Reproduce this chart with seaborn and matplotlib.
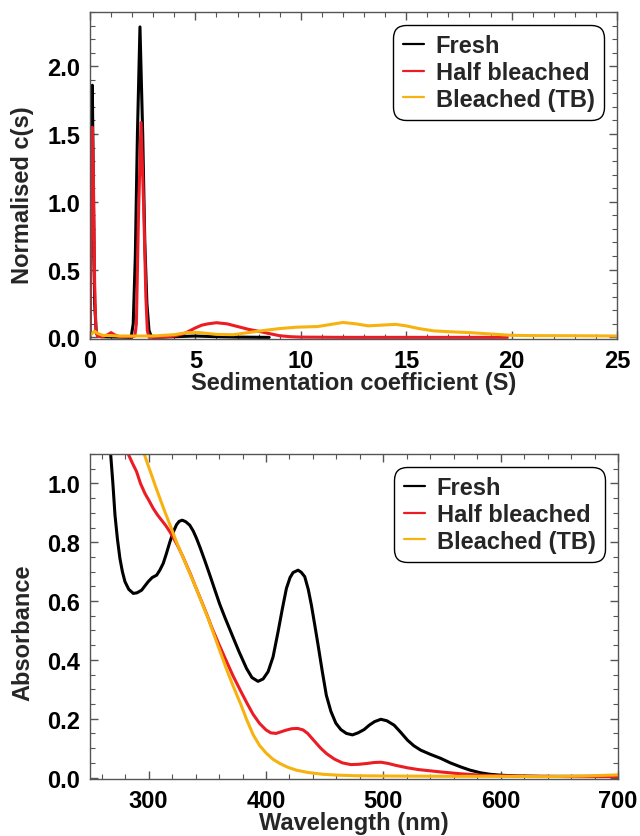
import numpy as np
import pandas as pd
import matplotlib
matplotlib.use("Agg")
import matplotlib.pyplot as plt
from matplotlib.ticker import MultipleLocator
import seaborn as sns

# ---------------- data ----------------
samples = ["Fresh", "Half bleached", "Bleached (TB)"]
colors = ["#000000", "#ec1c24", "#f7b20f"]

# Top panel: sedimentation coefficient distributions
fresh_s = [0.0, 0.06, 0.11, 0.16, 0.22, 0.3, 0.5, 1.0, 1.5, 1.95, 2.05, 2.15, 2.25, 2.37,
           2.5, 2.6, 2.7, 2.8, 2.9, 3.0, 4.0, 5.0, 6.0, 7.0, 8.5]
fresh_c = [0.0, 1.0, 1.86, 1.1, 0.25, 0.03, 0.005, 0.003, 0.002, 0.0, 0.1, 0.6, 1.5, 2.29,
           1.5, 0.7, 0.25, 0.05, 0.01, 0.0, 0.005, 0.01, 0.005, 0.002, 0.0]
half_s = [0.0, 0.06, 0.11, 0.16, 0.22, 0.28, 0.35, 0.6, 0.85, 1.0, 1.15, 1.4, 2.0, 2.13,
          2.2, 2.3, 2.42, 2.55, 2.65, 2.72, 2.8, 3.5, 4.0, 4.5, 5.0, 5.3, 5.6, 6.0, 6.5,
          7.0, 7.5, 8.0, 8.5, 9.0, 9.5, 10.0, 12.0, 19.8]
half_c = [0.0, 0.9, 1.55, 1.2, 0.4, 0.05, 0.01, 0.005, 0.02, 0.035, 0.02, 0.005, 0.005, 0.01,
          0.1, 0.9, 1.585, 0.95, 0.3, 0.05, 0.0, 0.003, 0.01, 0.03, 0.07, 0.09, 0.1, 0.108, 0.1,
          0.08, 0.06, 0.045, 0.028, 0.012, 0.005, 0.002, 0.0, 0.0]
tb_s = [0.0, 0.1, 0.22, 0.35, 0.6, 1.5, 3.0, 4.0, 4.6, 5.2, 6.0, 6.8, 7.5, 8.2, 9.0, 9.8,
        10.8, 11.4, 12.0, 12.6, 13.2, 13.8, 14.5, 15.0, 15.6, 16.3, 17.0, 18.0, 19.0, 20.0,
        21.0, 23.0, 25.0]
tb_c = [0.01, 0.03, 0.045, 0.03, 0.015, 0.01, 0.01, 0.02, 0.035, 0.035, 0.022, 0.02, 0.035,
        0.05, 0.065, 0.075, 0.08, 0.095, 0.11, 0.1, 0.085, 0.09, 0.096, 0.085, 0.065, 0.048,
        0.042, 0.035, 0.025, 0.015, 0.013, 0.012, 0.01]

# Bottom panel: absorbance spectra
fresh_wl = [267.6, 269.5, 271.3, 273.4, 275.5, 277.6, 279.8, 283, 286.9, 290, 294, 299.6,
            303, 306.8, 309.5, 312.4, 315, 318, 321, 323.8, 326, 328.6, 331.5, 335, 338,
            340.8, 344, 347.9, 352, 356.4, 360.5, 364.9, 368.5, 372, 377, 383.4, 388, 393.2,
            397.5, 401.8, 406, 410.3, 414, 417.4, 420.5, 423.1, 427.3, 430, 433, 436, 438.7,
            441.5, 444.4, 448, 451.4, 455.3, 459.5, 463.8, 468.5, 473.7, 478.5, 483.6, 488,
            492.5, 497.9, 503, 509.2, 514.5, 520.6, 526, 531.9, 540, 549, 557, 566, 574, 583,
            591, 600, 615, 634, 660, 700]
fresh_a = [1.1, 1.0, 0.892, 0.81, 0.745, 0.7, 0.666, 0.64, 0.626, 0.628, 0.637, 0.666,
           0.68, 0.688, 0.705, 0.728, 0.76, 0.8, 0.835, 0.86, 0.871, 0.875, 0.87, 0.858,
           0.838, 0.813, 0.78, 0.737, 0.69, 0.638, 0.59, 0.545, 0.51, 0.476, 0.428, 0.371,
           0.34, 0.327, 0.335, 0.36, 0.41, 0.496, 0.575, 0.643, 0.68, 0.697, 0.705, 0.698,
           0.683, 0.64, 0.586, 0.52, 0.45, 0.36, 0.28, 0.225, 0.185, 0.163, 0.15, 0.145,
           0.152, 0.163, 0.178, 0.19, 0.198, 0.193, 0.178, 0.155, 0.127, 0.108, 0.093, 0.079,
           0.065, 0.05, 0.036, 0.025, 0.016, 0.011, 0.008, 0.005, 0.004, 0.004, 0.004]
half_wl = [282.6, 286, 289.7, 293, 296.8, 300.5, 303.9, 307.5, 311, 314.5, 318, 321.5,
           325.1, 328.7, 332.3, 335.8, 339.4, 342.9, 346.4, 350, 353.6, 360, 366, 372,
           378.7, 383.5, 389, 394.5, 400, 404, 408.5, 412.5, 417, 422, 427, 431.5, 435.5,
           441, 446.8, 452, 458.2, 465, 472.3, 479, 486.5, 492, 497.9, 504, 511, 520.6, 530,
           548.9, 565, 583, 600, 634, 660, 700]
half_a = [1.1, 1.07, 1.04, 1.0, 0.966, 0.94, 0.915, 0.893, 0.875, 0.857, 0.836, 0.812,
          0.785, 0.755, 0.722, 0.69, 0.654, 0.62, 0.586, 0.55, 0.512, 0.452, 0.398, 0.345,
          0.292, 0.255, 0.215, 0.184, 0.162, 0.152, 0.15, 0.155, 0.161, 0.166, 0.167, 0.162,
          0.15, 0.125, 0.099, 0.08, 0.063, 0.05, 0.044, 0.045, 0.048, 0.051, 0.052, 0.048,
          0.041, 0.033, 0.027, 0.019, 0.013, 0.008, 0.006, 0.004, 0.003, 0.003]
tb_wl = [296.2, 299.3, 302.5, 306, 309.6, 313, 316.6, 320.2, 323.8, 327.3, 330.9, 335,
         339.4, 345, 350.7, 356, 361, 366, 371, 375, 378.7, 383.5, 389, 394.5, 400.4, 406,
         411.7, 418.5, 425.9, 436, 448.6, 462, 477, 511, 560, 600, 640, 670, 700]
tb_a = [1.1, 1.064, 1.028, 0.988, 0.949, 0.912, 0.875, 0.838, 0.8, 0.767, 0.734, 0.695,
        0.654, 0.598, 0.541, 0.482, 0.427, 0.372, 0.321, 0.282, 0.247, 0.197, 0.146, 0.109,
        0.082, 0.062, 0.048, 0.035, 0.025, 0.017, 0.011, 0.008, 0.006, 0.005, 0.004, 0.004,
        0.003, 0.005, 0.009]

auc = pd.concat([
    pd.DataFrame({"s": fresh_s, "c": fresh_c, "sample": samples[0]}),
    pd.DataFrame({"s": half_s, "c": half_c, "sample": samples[1]}),
    pd.DataFrame({"s": tb_s, "c": tb_c, "sample": samples[2]}),
], ignore_index=True)
uv = pd.concat([
    pd.DataFrame({"wl": fresh_wl, "a": fresh_a, "sample": samples[0]}),
    pd.DataFrame({"wl": half_wl, "a": half_a, "sample": samples[1]}),
    pd.DataFrame({"wl": tb_wl, "a": tb_a, "sample": samples[2]}),
], ignore_index=True)

# ---------------- style ----------------
sns.set_theme(style="ticks")
plt.rcParams["font.family"] = ["Liberation Sans", "DejaVu Sans"]
plt.rcParams["font.weight"] = "bold"
plt.rcParams["axes.labelweight"] = "bold"
FS = 17
palette = dict(zip(samples, colors))
spine_col = "#555555"

fig = plt.figure(figsize=(6.4, 8.37), dpi=100)
ax1 = fig.add_axes([90 / 640, 1 - 340 / 837, 527 / 640, 327 / 837])
ax2 = fig.add_axes([90 / 640, 1 - 780 / 837, 528 / 640, 325 / 837])

sns.lineplot(data=auc, x="s", y="c", hue="sample", hue_order=samples, palette=palette,
             estimator=None, sort=True, linewidth=2.2, ax=ax1)
sns.lineplot(data=uv, x="wl", y="a", hue="sample", hue_order=samples, palette=palette,
             estimator=None, sort=True, linewidth=2.2, ax=ax2)

ax1.set_xlim(0, 25)
ax1.set_ylim(-0.012, 2.4)
ax1.xaxis.set_major_locator(MultipleLocator(5))
ax1.xaxis.set_minor_locator(MultipleLocator(1))
ax1.yaxis.set_major_locator(MultipleLocator(0.5))
ax1.yaxis.set_minor_locator(MultipleLocator(0.1))
ax1.set_xlabel("Sedimentation coefficient (S)", fontsize=FS, fontweight="bold")
ax1.set_ylabel("Normalised c(s)", fontsize=FS, fontweight="bold")
ax1.yaxis.set_label_coords(-0.106, 0.443)
ax1.xaxis.set_label_coords(0.5, -0.098)

ax2.set_xlim(250, 700)
ax2.set_ylim(-0.005, 1.1)
ax2.xaxis.set_major_locator(MultipleLocator(100))
ax2.xaxis.set_minor_locator(MultipleLocator(20))
ax2.yaxis.set_major_locator(MultipleLocator(0.2))
ax2.yaxis.set_minor_locator(MultipleLocator(0.05))
ax2.set_xlabel("Wavelength (nm)", fontsize=FS, fontweight="bold")
ax2.set_ylabel("Absorbance", fontsize=FS, fontweight="bold")
ax2.yaxis.set_label_coords(-0.106, 0.454)
ax2.xaxis.set_label_coords(0.5, -0.1)

for ax in (ax1, ax2):
    for sp in ax.spines.values():
        sp.set_visible(True)
        sp.set_color(spine_col)
        sp.set_linewidth(1.0)
    ax.tick_params(which="both", direction="in", top=True, right=True, colors=spine_col,
                   labelcolor="black", labelsize=FS)
    ax.tick_params(which="major", length=6, width=1.0, pad=7)
    ax.tick_params(which="minor", length=3.5, width=0.8)
    for lab in ax.get_xticklabels() + ax.get_yticklabels():
        lab.set_fontweight("bold")
    handles, labels = ax.get_legend_handles_labels()
    leg = ax.legend(handles, labels, loc="upper right", fontsize=FS, frameon=True,
                    fancybox=True, handlelength=0.9, handletextpad=0.5, labelspacing=0.15,
                    borderpad=0.4, borderaxespad=0.55, framealpha=1)
    frame = leg.get_frame()
    frame.set_edgecolor("black")
    frame.set_linewidth(1.0)
    frame.set_boxstyle("round,pad=0,rounding_size=0.55")
    for ln in leg.get_lines():
        ln.set_linewidth(1.6)
    for t in leg.get_texts():
        t.set_fontweight("bold")

fig.savefig("out.png", dpi=100)
